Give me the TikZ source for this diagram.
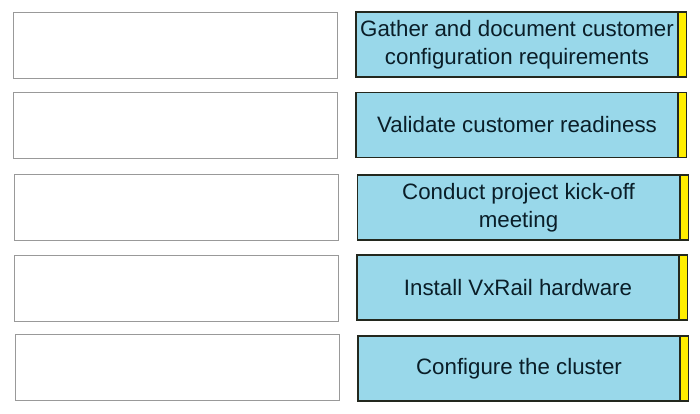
\documentclass[tikz,border=0pt]{standalone}
\usepackage{fontspec}
\setmainfont{Liberation Sans}
\usetikzlibrary{positioning}
\definecolor{taskblue}{RGB}{153,216,234}
\definecolor{tabyellow}{RGB}{255,238,0}
\definecolor{taskline}{RGB}{35,40,30}
\definecolor{tasktext}{RGB}{10,30,40}
\tikzset{font=\fontsize{22.3}{28.5}\selectfont}
\tikzset{slot/.style={draw=black!40, line width=0.6pt, minimum width=324pt, minimum height=66pt, inner sep=0pt}}
\tikzset{task/.style={draw=taskline, line width=1.3pt, fill=taskblue, minimum width=322pt, minimum height=65pt, inner sep=0pt, align=center, text=tasktext}}
\tikzset{tab/.style={draw=taskline, line width=1.3pt, fill=tabyellow, minimum width=8pt, minimum height=65pt, inner sep=0pt}}

\begin{document}
\begin{tikzpicture}[x=1pt,y=-1pt]
\useasboundingbox (0,0) rectangle (700,413);
% empty answer slots
\foreach \x/\y/\n in {175/45/1,175/125/2,176/207.5/3,176/288/4,177/367.5/5}
\node[slot] (slot\n) at (\x,\y) {};
% steps to order
\foreach \x/\y/\n/\txt in {517/44.5/1/{Gather and document customer\\configuration requirements},
  517/125/2/{Validate customer readiness},
  518.5/207.5/3/{Conduct project kick-off\\meeting},
  518/287.5/4/{Install VxRail hardware},
  519/368.5/5/{Configure the cluster}}
{
\node[task] (task\n) at (\x,\y) {\txt};
\node[tab, right=-0.65pt of task\n] (tab\n) {};
}
\end{tikzpicture}
\end{document}
